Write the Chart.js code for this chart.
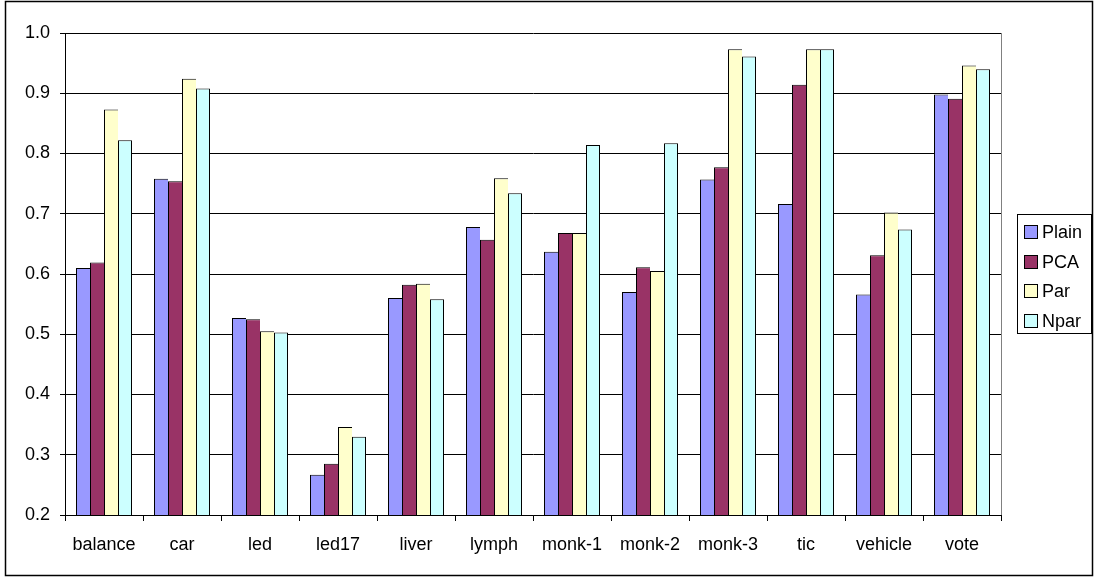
<!DOCTYPE html>
<html>
<head>
<meta charset="utf-8">
<title>Accuracy by dataset</title>
<script src="https://cdn.jsdelivr.net/npm/chart.js@4.4.1/dist/chart.umd.min.js"></script>
<style>
  html, body { margin: 0; padding: 0; background: #fff; }
  #wrap { position: relative; width: 1094px; height: 577px; }
</style>
</head>
<body>
<div id="wrap"><canvas id="accChart"></canvas></div>
<script>
// --- Data ---
const datasetNames = ['balance', 'car', 'led', 'led17', 'liver', 'lymph', 'monk-1', 'monk-2', 'monk-3', 'tic', 'vehicle', 'vote'];
const seriesNames = ['Plain', 'PCA', 'Par', 'Npar'];

const plainAcc = [0.610, 0.758, 0.527, 0.267, 0.560, 0.678, 0.637, 0.570, 0.757, 0.716, 0.566, 0.898];
const pcaAcc   = [0.619, 0.754, 0.525, 0.285, 0.582, 0.657, 0.668, 0.611, 0.777, 0.914, 0.631, 0.891];
const parAcc   = [0.873, 0.924, 0.505, 0.346, 0.584, 0.759, 0.668, 0.605, 0.973, 0.973, 0.702, 0.946];
const nparAcc  = [0.822, 0.908, 0.503, 0.330, 0.558, 0.734, 0.814, 0.817, 0.961, 0.973, 0.674, 0.940];

const yTickValues = [0.2, 0.3, 0.4, 0.5, 0.6, 0.7, 0.8, 0.9, 1.0];

// --- Styling ---
const FONT = "Arial, 'Liberation Sans', sans-serif";
const fills = ['#9999FF', '#993366', '#FFFFCC', '#CCFFFF'];

Chart.defaults.font.family = FONT;
Chart.defaults.color = '#000';

// shared edges between neighbouring bars are drawn once: left + top,
// the last series of each group also closes its right side
function edgeFor(i) {
    return { left: 1, top: 1, bottom: 0, right: i === seriesNames.length - 1 ? 1 : 0 };
}

const seriesValues = [plainAcc, pcaAcc, parAcc, nparAcc];

// --- Plugins: outer frame, plot border, boxed legend ---
const frame = {
    id: 'frame',
    afterDraw(chart) {
        const { ctx, chartArea: a } = chart;
        ctx.save();
        // plot area right edge
        ctx.strokeStyle = '#808080';
        ctx.lineWidth = 1;
        ctx.beginPath();
        ctx.moveTo(Math.round(a.right) + 0.5, a.top);
        ctx.lineTo(Math.round(a.right) + 0.5, a.bottom);
        ctx.stroke();
        // chart border
        ctx.strokeStyle = '#000';
        ctx.lineWidth = 1.5;
        ctx.strokeRect(5.5, 1.5, 1087, 574);
        ctx.restore();
    }
};

const boxLegend = {
    id: 'boxLegend',
    afterDraw(chart) {
        const { ctx } = chart;
        const x0 = 1017, y0 = 214, w = 74, h = 119;
        const rowH = 29.5, firstRow = 232;
        ctx.save();
        ctx.fillStyle = '#fff';
        ctx.fillRect(x0, y0, w, h);
        ctx.strokeStyle = '#000';
        ctx.lineWidth = 1;
        ctx.strokeRect(x0 + 0.5, y0 + 0.5, w, h);
        ctx.font = '18px ' + FONT;
        ctx.textBaseline = 'middle';
        ctx.textAlign = 'left';
        chart.data.datasets.forEach((ds, i) => {
            const cy = Math.round(firstRow + i * rowH);
            ctx.fillStyle = ds.backgroundColor;
            ctx.fillRect(1024, cy - 7, 14, 14);
            ctx.strokeRect(1024.5, cy - 6.5, 13, 13);
            ctx.fillStyle = '#000';
            ctx.fillText(ds.label, 1042, cy + 1);
        });
        ctx.restore();
    }
};

// --- Chart ---
const ctx = document.getElementById('accChart').getContext('2d');
new Chart(ctx, {
    type: 'bar',
    data: {
        labels: datasetNames,
        datasets: seriesNames.map((name, i) => ({
            label: name,
            data: seriesValues[i],
            backgroundColor: fills[i],
            borderColor: '#000',
            borderWidth: edgeFor(i),
            borderSkipped: false,
            inflateAmount: 0,
            categoryPercentage: 56 / 78,
            barPercentage: 1.0
        }))
    },
    options: {
        responsive: true,
        maintainAspectRatio: false,
        animation: false,
        layout: { padding: { left: 5, top: 33, right: 93, bottom: 0 } },
        plugins: {
            legend: { display: false },
            tooltip: { enabled: false }
        },
        scales: {
            x: {
                grid: {
                    offset: true,
                    drawOnChartArea: false,
                    drawTicks: true,
                    tickLength: 6,
                    color: '#000'
                },
                border: { display: true, color: '#000', width: 1 },
                ticks: {
                    font: { size: 18 },
                    color: '#000',
                    padding: 13,
                    maxRotation: 0,
                    autoSkip: false
                },
                afterFit: s => { s.height = 62; }
            },
            y: {
                min: 0.2,
                max: 1.0,
                afterBuildTicks: s => { s.ticks = yTickValues.map(v => ({ value: v })); },
                grid: {
                    color: '#000',
                    lineWidth: 1,
                    tickLength: 5,
                    drawTicks: true
                },
                border: { display: true, color: '#000', width: 1 },
                ticks: {
                    font: { size: 18 },
                    color: '#000',
                    padding: 10,
                    callback: v => Number(v).toFixed(1)
                },
                afterFit: s => { s.width = 60; }
            }
        }
    },
    plugins: [frame, boxLegend]
});
</script>
</body>
</html>
